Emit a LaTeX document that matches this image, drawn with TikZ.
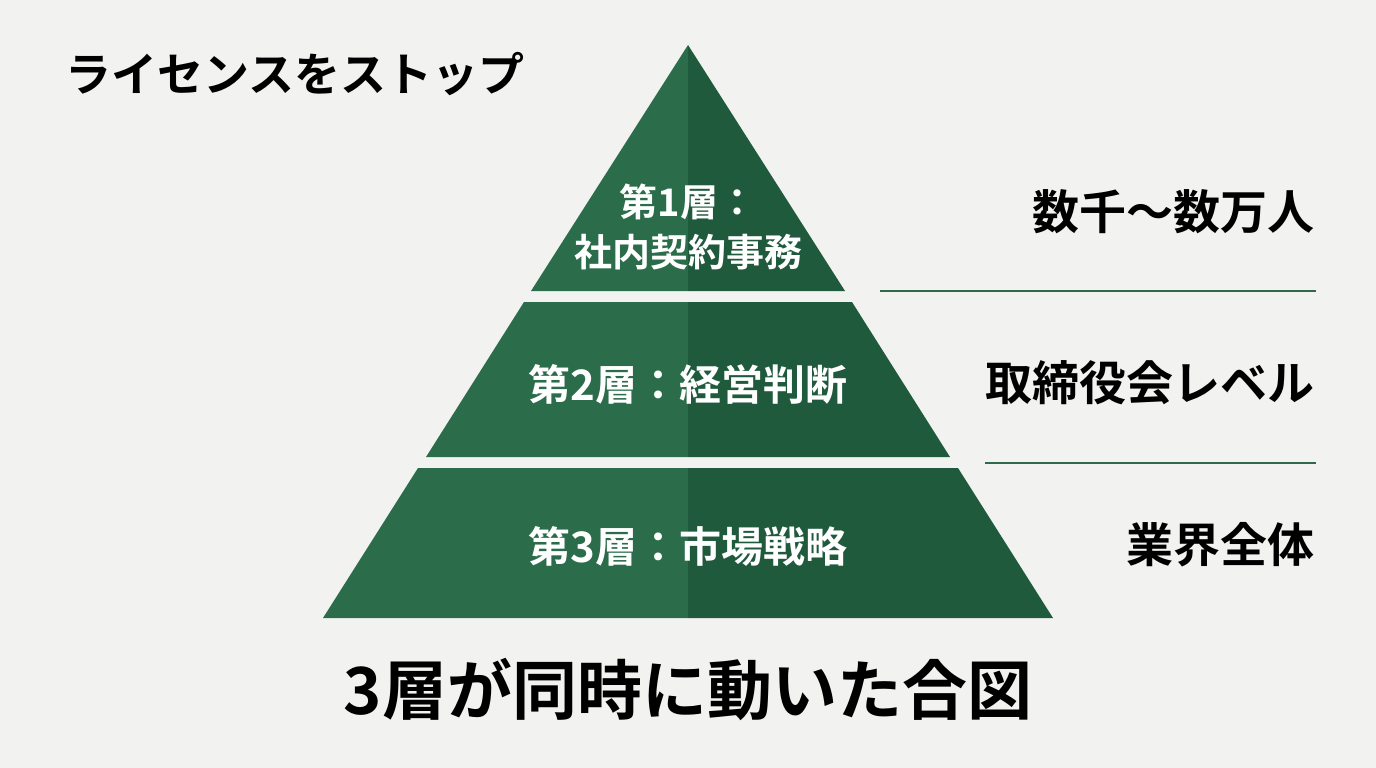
\documentclass[tikz,border=0pt]{standalone}
\usepackage{fontspec}
\newfontfamily\jp{Noto Sans CJK JP Bold}
\definecolor{bg}{HTML}{F2F2F0}
\definecolor{gl}{HTML}{2B6D4A}
\definecolor{gd}{HTML}{1F5A3D}
\definecolor{ln}{HTML}{2F6A4A}
\begin{document}
\begin{tikzpicture}[x=1pt,y=-1pt,
 tier/.style={font=\jp\fontsize{42}{52}\selectfont,text=white,align=center},
 lab/.style={font=\jp\fontsize{47}{56}\selectfont,anchor=east},
 sep/.style={draw=ln,line width=1.2pt}]
\fill[bg] (0,0) rectangle (1376,768);
\useasboundingbox (0,0) rectangle (1376,768);
% tier 1
\fill[gl] (688,45) -- (531,291) -- (688,291) -- cycle;
\fill[gd] (688,45) -- (845,291) -- (688,291) -- cycle;
% tier 2
\fill[gl] (688,302) -- (524,302) -- (426,457) -- (688,457) -- cycle;
\fill[gd] (688,302) -- (852,302) -- (950,457) -- (688,457) -- cycle;
% tier 3
\fill[gl] (688,468) -- (418,468) -- (323,618) -- (688,618) -- cycle;
\fill[gd] (688,468) -- (958,468) -- (1053,618) -- (688,618) -- cycle;
\node[tier,font=\jp\fontsize{38}{50}\selectfont] (t1) at (688,227) {第1層：\\社内契約事務};
\node[tier] (t2) at (688,384) {第2層：経営判断};
\node[tier] (t3) at (688,546) {第3層：市場戦略};
\node[font=\jp\fontsize{46}{52}\selectfont,anchor=west] (ti) at (62,74) {ライセンスをストップ};
\node[lab] (l1) at (1318,212) {数千〜数万人};
\node[lab] (l2) at (1318,383) {取締役会レベル};
\node[lab] (l3) at (1318,545) {業界全体};
\coordinate (a1) at (880,291); \coordinate (b1) at (1316,291);
\coordinate (a2) at (985,463); \coordinate (b2) at (1316,463);
\draw[sep] (a1) -- (b1);
\draw[sep] (a2) -- (b2);
\node[font=\jp\fontsize{65}{72}\selectfont] (bt) at (688,690) {3層が同時に動いた合図};
\end{tikzpicture}
\end{document}
